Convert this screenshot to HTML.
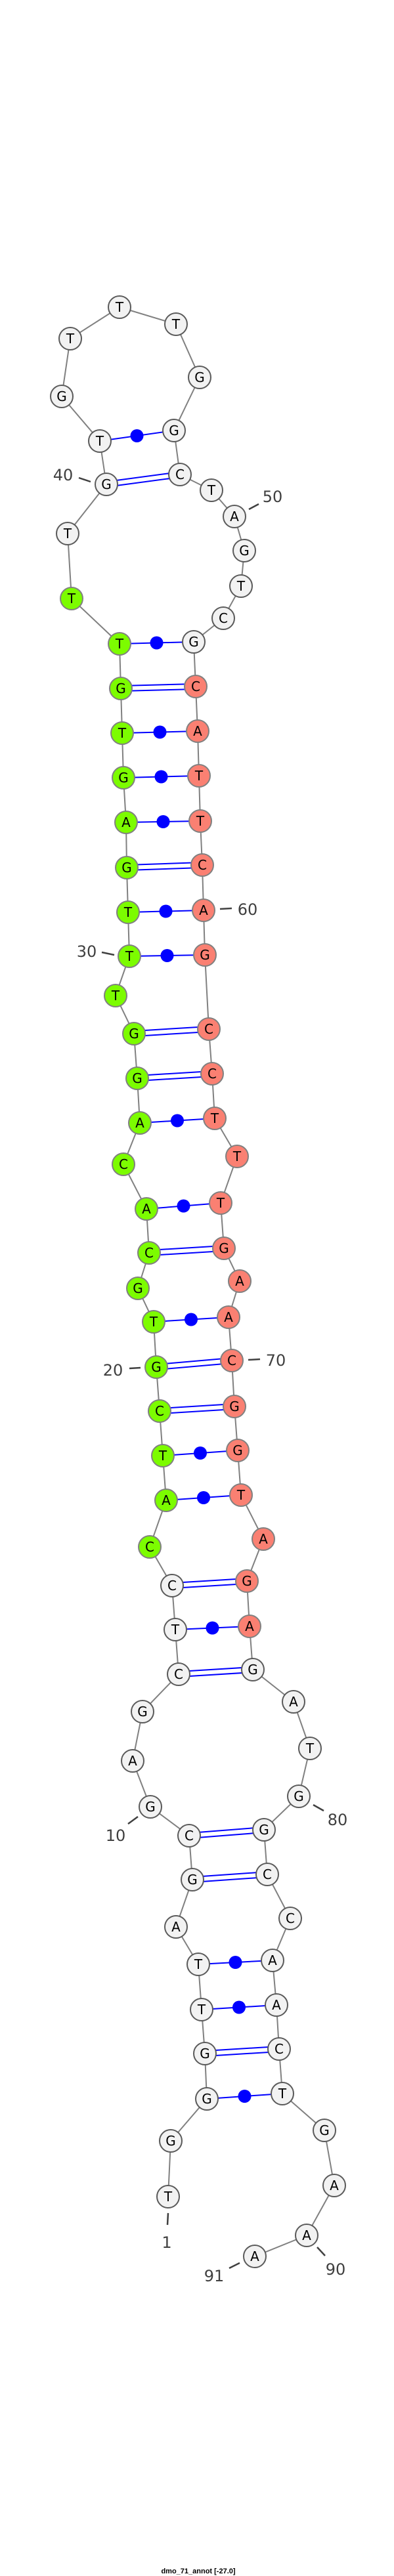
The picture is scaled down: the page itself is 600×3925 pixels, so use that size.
<!DOCTYPE html>
<html><head><meta charset="utf-8"><style>
html,body{margin:0;padding:0;background:#fff;}
svg{display:block;}
.w{fill:#f2f2f2;stroke:#5a5a5a;stroke-width:2;}
.g{fill:#7cfc00;stroke:#808080;stroke-width:2;}
.r{fill:#fa8072;stroke:#808080;stroke-width:2;}
.n text{font-family:"DejaVu Sans","Liberation Sans",sans-serif;font-size:20px;text-anchor:middle;fill:#000;}
.lb{font-family:"DejaVu Sans","Liberation Sans",sans-serif;font-size:24px;text-anchor:middle;fill:#404040;}
.bp{stroke:#0000ff;stroke-width:2;}
.tk{stroke:#404040;stroke-width:2.5;}
</style></head><body>
<svg width="600" height="3925" viewBox="0 0 600 3925" xmlns="http://www.w3.org/2000/svg">
<polyline fill="none" stroke="#808080" stroke-width="2" points="256,3347 260,3262 315,3198 312,3129 307,3062 302,2993 268,2936 293,2864 288,2797 229,2753 202,2683 217,2608 272,2551 267,2483 262,2416 228,2357 253,2286 248,2218 243,2150 238,2083 234,2014 210,1963 227,1909 223,1842 188,1774 213,1711 209,1643 204,1575 176,1517 197,1457 195,1390 193,1322 192,1253 188,1185 186,1117 184,1049 182,981 109,912 103,813 162,738 152,672 94,604 107,516 182,468 268,494 304,575 265,656 274,723 322,747 357,787 372,839 367,893 340,942 295,978 298,1046 301,1114 303,1182 305,1251 308,1318 310,1387 312,1455 318,1568 323,1636 327,1704 361,1762 336,1833 341,1902 365,1952 348,2007 353,2073 357,2143 362,2210 367,2278 401,2345 376,2409 380,2478 385,2544 447,2593 472,2664 455,2737 402,2788 407,2856 442,2923 415,2987 421,3055 425,3122 430,3190 494,3246 509,3330 467,3406 388,3438"/>
<g class="bp">
<line x1="162" y1="734" x2="274" y2="719"/><line x1="162" y1="742" x2="274" y2="727"/>
<line x1="184" y1="1045" x2="298" y2="1042"/><line x1="184" y1="1053" x2="298" y2="1050"/>
<line x1="193" y1="1318" x2="308" y2="1314"/><line x1="193" y1="1326" x2="308" y2="1322"/>
<line x1="204" y1="1571" x2="318" y2="1564"/><line x1="204" y1="1579" x2="318" y2="1572"/>
<line x1="209" y1="1639" x2="323" y2="1632"/><line x1="209" y1="1647" x2="323" y2="1640"/>
<line x1="227" y1="1905" x2="341" y2="1898"/><line x1="227" y1="1913" x2="341" y2="1906"/>
<line x1="238" y1="2079" x2="353" y2="2069"/><line x1="238" y1="2087" x2="353" y2="2077"/>
<line x1="243" y1="2146" x2="357" y2="2139"/><line x1="243" y1="2154" x2="357" y2="2147"/>
<line x1="262" y1="2412" x2="376" y2="2405"/><line x1="262" y1="2420" x2="376" y2="2413"/>
<line x1="272" y1="2547" x2="385" y2="2540"/><line x1="272" y1="2555" x2="385" y2="2548"/>
<line x1="288" y1="2793" x2="402" y2="2784"/><line x1="288" y1="2801" x2="402" y2="2792"/>
<line x1="293" y1="2860" x2="407" y2="2852"/><line x1="293" y1="2868" x2="407" y2="2860"/>
<line x1="312" y1="3125" x2="425" y2="3118"/><line x1="312" y1="3133" x2="425" y2="3126"/>
<line x1="152" y1="672" x2="265" y2="656"/>
<line x1="182" y1="981" x2="295" y2="978"/>
<line x1="186" y1="1117" x2="301" y2="1114"/>
<line x1="188" y1="1185" x2="303" y2="1182"/>
<line x1="192" y1="1253" x2="305" y2="1251"/>
<line x1="195" y1="1390" x2="310" y2="1387"/>
<line x1="197" y1="1457" x2="312" y2="1455"/>
<line x1="213" y1="1711" x2="327" y2="1704"/>
<line x1="223" y1="1842" x2="336" y2="1833"/>
<line x1="234" y1="2014" x2="348" y2="2007"/>
<line x1="248" y1="2218" x2="362" y2="2210"/>
<line x1="253" y1="2286" x2="367" y2="2278"/>
<line x1="267" y1="2483" x2="380" y2="2478"/>
<line x1="302" y1="2993" x2="415" y2="2987"/>
<line x1="307" y1="3062" x2="421" y2="3055"/>
<line x1="315" y1="3198" x2="430" y2="3190"/>
</g>
<g fill="#0000ff">
<circle cx="208.5" cy="664" r="10"/><circle cx="238.5" cy="979.5" r="10"/><circle cx="243.5" cy="1115.5" r="10"/>
<circle cx="245.5" cy="1183.5" r="10"/><circle cx="248.5" cy="1252" r="10"/><circle cx="252.5" cy="1388.5" r="10"/>
<circle cx="254.5" cy="1456" r="10"/><circle cx="270" cy="1707.5" r="10"/><circle cx="279.5" cy="1837.5" r="10"/>
<circle cx="291" cy="2010.5" r="10"/><circle cx="305" cy="2214" r="10"/><circle cx="310" cy="2282" r="10"/>
<circle cx="323.5" cy="2480.5" r="10"/><circle cx="358.5" cy="2990" r="10"/><circle cx="364" cy="3058.5" r="10"/>
<circle cx="372.5" cy="3194" r="10"/>
</g>
<g class="n">
<circle class="w" cx="256" cy="3347" r="17"/><text x="256" y="3354">T</text>
<circle class="w" cx="260" cy="3262" r="17"/><text x="260" y="3269">G</text>
<circle class="w" cx="315" cy="3198" r="17"/><text x="315" y="3205">G</text>
<circle class="w" cx="312" cy="3129" r="17"/><text x="312" y="3136">G</text>
<circle class="w" cx="307" cy="3062" r="17"/><text x="307" y="3069">T</text>
<circle class="w" cx="302" cy="2993" r="17"/><text x="302" y="3000">T</text>
<circle class="w" cx="268" cy="2936" r="17"/><text x="268" y="2943">A</text>
<circle class="w" cx="293" cy="2864" r="17"/><text x="293" y="2871">G</text>
<circle class="w" cx="288" cy="2797" r="17"/><text x="288" y="2804">C</text>
<circle class="w" cx="229" cy="2753" r="17"/><text x="229" y="2760">G</text>
<circle class="w" cx="202" cy="2683" r="17"/><text x="202" y="2690">A</text>
<circle class="w" cx="217" cy="2608" r="17"/><text x="217" y="2615">G</text>
<circle class="w" cx="272" cy="2551" r="17"/><text x="272" y="2558">C</text>
<circle class="w" cx="267" cy="2483" r="17"/><text x="267" y="2490">T</text>
<circle class="w" cx="262" cy="2416" r="17"/><text x="262" y="2423">C</text>
<circle class="g" cx="228" cy="2357" r="17"/><text x="228" y="2364">C</text>
<circle class="g" cx="253" cy="2286" r="17"/><text x="253" y="2293">A</text>
<circle class="g" cx="248" cy="2218" r="17"/><text x="248" y="2225">T</text>
<circle class="g" cx="243" cy="2150" r="17"/><text x="243" y="2157">C</text>
<circle class="g" cx="238" cy="2083" r="17"/><text x="238" y="2090">G</text>
<circle class="g" cx="234" cy="2014" r="17"/><text x="234" y="2021">T</text>
<circle class="g" cx="210" cy="1963" r="17"/><text x="210" y="1970">G</text>
<circle class="g" cx="227" cy="1909" r="17"/><text x="227" y="1916">C</text>
<circle class="g" cx="223" cy="1842" r="17"/><text x="223" y="1849">A</text>
<circle class="g" cx="188" cy="1774" r="17"/><text x="188" y="1781">C</text>
<circle class="g" cx="213" cy="1711" r="17"/><text x="213" y="1718">A</text>
<circle class="g" cx="209" cy="1643" r="17"/><text x="209" y="1650">G</text>
<circle class="g" cx="204" cy="1575" r="17"/><text x="204" y="1582">G</text>
<circle class="g" cx="176" cy="1517" r="17"/><text x="176" y="1524">T</text>
<circle class="g" cx="197" cy="1457" r="17"/><text x="197" y="1464">T</text>
<circle class="g" cx="195" cy="1390" r="17"/><text x="195" y="1397">T</text>
<circle class="g" cx="193" cy="1322" r="17"/><text x="193" y="1329">G</text>
<circle class="g" cx="192" cy="1253" r="17"/><text x="192" y="1260">A</text>
<circle class="g" cx="188" cy="1185" r="17"/><text x="188" y="1192">G</text>
<circle class="g" cx="186" cy="1117" r="17"/><text x="186" y="1124">T</text>
<circle class="g" cx="184" cy="1049" r="17"/><text x="184" y="1056">G</text>
<circle class="g" cx="182" cy="981" r="17"/><text x="182" y="988">T</text>
<circle class="g" cx="109" cy="912" r="17"/><text x="109" y="919">T</text>
<circle class="w" cx="103" cy="813" r="17"/><text x="103" y="820">T</text>
<circle class="w" cx="162" cy="738" r="17"/><text x="162" y="745">G</text>
<circle class="w" cx="152" cy="672" r="17"/><text x="152" y="679">T</text>
<circle class="w" cx="94" cy="604" r="17"/><text x="94" y="611">G</text>
<circle class="w" cx="107" cy="516" r="17"/><text x="107" y="523">T</text>
<circle class="w" cx="182" cy="468" r="17"/><text x="182" y="475">T</text>
<circle class="w" cx="268" cy="494" r="17"/><text x="268" y="501">T</text>
<circle class="w" cx="304" cy="575" r="17"/><text x="304" y="582">G</text>
<circle class="w" cx="265" cy="656" r="17"/><text x="265" y="663">G</text>
<circle class="w" cx="274" cy="723" r="17"/><text x="274" y="730">C</text>
<circle class="w" cx="322" cy="747" r="17"/><text x="322" y="754">T</text>
<circle class="w" cx="357" cy="787" r="17"/><text x="357" y="794">A</text>
<circle class="w" cx="372" cy="839" r="17"/><text x="372" y="846">G</text>
<circle class="w" cx="367" cy="893" r="17"/><text x="367" y="900">T</text>
<circle class="w" cx="340" cy="942" r="17"/><text x="340" y="949">C</text>
<circle class="w" cx="295" cy="978" r="17"/><text x="295" y="985">G</text>
<circle class="r" cx="298" cy="1046" r="17"/><text x="298" y="1053">C</text>
<circle class="r" cx="301" cy="1114" r="17"/><text x="301" y="1121">A</text>
<circle class="r" cx="303" cy="1182" r="17"/><text x="303" y="1189">T</text>
<circle class="r" cx="305" cy="1251" r="17"/><text x="305" y="1258">T</text>
<circle class="r" cx="308" cy="1318" r="17"/><text x="308" y="1325">C</text>
<circle class="r" cx="310" cy="1387" r="17"/><text x="310" y="1394">A</text>
<circle class="r" cx="312" cy="1455" r="17"/><text x="312" y="1462">G</text>
<circle class="r" cx="318" cy="1568" r="17"/><text x="318" y="1575">C</text>
<circle class="r" cx="323" cy="1636" r="17"/><text x="323" y="1643">C</text>
<circle class="r" cx="327" cy="1704" r="17"/><text x="327" y="1711">T</text>
<circle class="r" cx="361" cy="1762" r="17"/><text x="361" y="1769">T</text>
<circle class="r" cx="336" cy="1833" r="17"/><text x="336" y="1840">T</text>
<circle class="r" cx="341" cy="1902" r="17"/><text x="341" y="1909">G</text>
<circle class="r" cx="365" cy="1952" r="17"/><text x="365" y="1959">A</text>
<circle class="r" cx="348" cy="2007" r="17"/><text x="348" y="2014">A</text>
<circle class="r" cx="353" cy="2073" r="17"/><text x="353" y="2080">C</text>
<circle class="r" cx="357" cy="2143" r="17"/><text x="357" y="2150">G</text>
<circle class="r" cx="362" cy="2210" r="17"/><text x="362" y="2217">G</text>
<circle class="r" cx="367" cy="2278" r="17"/><text x="367" y="2285">T</text>
<circle class="r" cx="401" cy="2345" r="17"/><text x="401" y="2352">A</text>
<circle class="r" cx="376" cy="2409" r="17"/><text x="376" y="2416">G</text>
<circle class="r" cx="380" cy="2478" r="17"/><text x="380" y="2485">A</text>
<circle class="w" cx="385" cy="2544" r="17"/><text x="385" y="2551">G</text>
<circle class="w" cx="447" cy="2593" r="17"/><text x="447" y="2600">A</text>
<circle class="w" cx="472" cy="2664" r="17"/><text x="472" y="2671">T</text>
<circle class="w" cx="455" cy="2737" r="17"/><text x="455" y="2744">G</text>
<circle class="w" cx="402" cy="2788" r="17"/><text x="402" y="2795">G</text>
<circle class="w" cx="407" cy="2856" r="17"/><text x="407" y="2863">C</text>
<circle class="w" cx="442" cy="2923" r="17"/><text x="442" y="2930">C</text>
<circle class="w" cx="415" cy="2987" r="17"/><text x="415" y="2994">A</text>
<circle class="w" cx="421" cy="3055" r="17"/><text x="421" y="3062">A</text>
<circle class="w" cx="425" cy="3122" r="17"/><text x="425" y="3129">C</text>
<circle class="w" cx="430" cy="3190" r="17"/><text x="430" y="3197">T</text>
<circle class="w" cx="494" cy="3246" r="17"/><text x="494" y="3253">G</text>
<circle class="w" cx="509" cy="3330" r="17"/><text x="509" y="3337">A</text>
<circle class="w" cx="467" cy="3406" r="17"/><text x="467" y="3413">A</text>
<circle class="w" cx="388" cy="3438" r="17"/><text x="388" y="3445">A</text>
</g>
<g class="tk">
<line x1="120" y1="728" x2="138" y2="734"/>
<line x1="379" y1="776" x2="394" y2="768"/>
<line x1="335" y1="1385" x2="353" y2="1384"/>
<line x1="155" y1="1451" x2="174" y2="1455"/>
<line x1="197" y1="2085" x2="214" y2="2084"/>
<line x1="378" y1="2072" x2="396" y2="2071"/>
<line x1="195" y1="2779" x2="210" y2="2768"/>
<line x1="477" y1="2750" x2="493" y2="2759"/>
<line x1="256" y1="3372" x2="255" y2="3390"/>
<line x1="349" y1="3456" x2="365" y2="3448"/>
<line x1="483" y1="3424" x2="495" y2="3437"/>
</g>
<text class="lb" x="96" y="732">40</text>
<text class="lb" x="415" y="765">50</text>
<text class="lb" x="377" y="1394">60</text>
<text class="lb" x="132" y="1458">30</text>
<text class="lb" x="172" y="2096">20</text>
<text class="lb" x="420" y="2081">70</text>
<text class="lb" x="176" y="2805">10</text>
<text class="lb" x="514" y="2781">80</text>
<text class="lb" x="254" y="3425">1</text>
<text class="lb" x="326" y="3476">91</text>
<text class="lb" x="511" y="3466">90</text>
<text x="302" y="3921" font-family="Liberation Sans, sans-serif" font-size="11" font-weight="bold" text-anchor="middle" fill="#000">dmo_71_annot [-27.0]</text>
</svg>
</body></html>
